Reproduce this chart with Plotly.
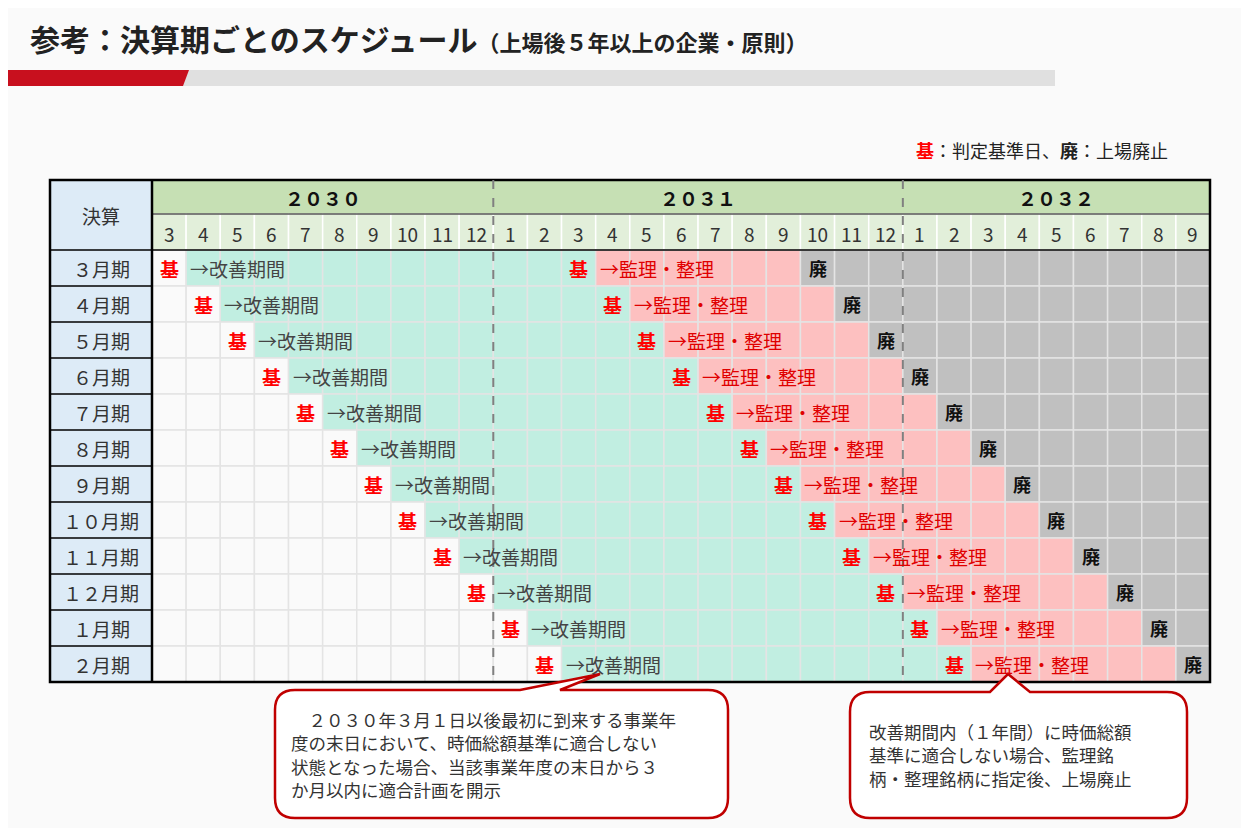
import plotly.graph_objects as go

years = ["２０３０", "２０３１", "２０３２"]
year_months = [[3,4,5,6,7,8,9,10,11,12], [1,2,3,4,5,6,7,8,9,10,11,12], [1,2,3,4,5,6,7,8,9]]
row_labels = ["３月期","４月期","５月期","６月期","７月期","８月期","９月期","１０月期","１１月期","１２月期","１月期","２月期"]
kijun1_col = [0,1,2,3,4,5,6,7,8,9,10,11]
kijun2_col = [12,13,14,15,16,17,18,19,20,21,22,23]
haishi_col = [19,20,21,22,23,24,25,26,27,28,29,30]

W, H = 1249, 828
OFF = 8
X0, X1 = 152, 1210
LX = 50
YT, YM, Y0 = 180, 214, 250
RH = 36
months = [m for ym in year_months for m in ym]
NC = len(months)
CW = (X1 - X0) / NC
Y1 = Y0 + RH * len(row_labels)

FONT = "Noto Sans CJK JP"
GREEN, PINK, GRAY, WHITE = "#c1eee1", "#fdc0c0", "#c0c0c0", "#fafafa"
shapes, ann = [], []

def rect(x0, y0, x1, y1, fill, lc="#e2e2e2", lw=1):
    shapes.append(dict(type="rect", xref="x", yref="y", x0=x0, y0=y0, x1=x1, y1=y1,
                       fillcolor=fill, line=dict(color=lc, width=lw), layer="below"))

def text(x, y, s, size=19, color="#333", xanchor="center", bold=False):
    if bold:
        s = "<b>" + s + "</b>"
    ann.append(dict(x=x, y=y, xref="x", yref="y", text=s, showarrow=False, xanchor=xanchor,
                    yanchor="middle", font=dict(family=FONT, size=size, color=color)))

# title & bar
text(28, 38, "<b>参考：決算期ごとのスケジュール<span style='font-size:22px'>（上場後５年以上の企業・原則）</span></b>", size=30, color="#222", xanchor="left")
shapes.append(dict(type="rect", xref="x", yref="y", x0=183, y0=70, x1=1055, y1=86, fillcolor="#e0e0e0", line=dict(width=0)))
shapes.append(dict(type="path", xref="x", yref="y", path="M 0 70 L 189 70 L 183 86 L 0 86 Z", fillcolor="#c8101e", line=dict(width=0)))
text(1170, 150, "<span style='color:#ff0000'><b>基</b></span>：判定基準日、<b>廃</b>：上場廃止", size=18, color="#222", xanchor="right")

# header
rect(LX, YT, X0, Y1, "#ddebf7", lc="#000", lw=0)
text((LX + X0) / 2, (YT + Y0) / 2, "決算", size=19)
c = 0
for yi, ym in enumerate(year_months):
    xa, xb = X0 + c * CW, X0 + (c + len(ym)) * CW
    rect(xa, YT, xb, YM, "#c6e0b4", lc="#c6e0b4")
    text((xa + xb) / 2, (YT + YM) / 2, years[yi], size=19, color="#111", bold=True)
    for k, m in enumerate(ym):
        xx = X0 + (c + k) * CW
        rect(xx, YM, xx + CW, Y0, "#e2efda", lc="#ffffff", lw=1.5)
        text(xx + CW / 2, (YM + Y0) / 2 + 1, str(m), size=19)
    c += len(ym)

# body
for r, lab in enumerate(row_labels):
    ya, yb = Y0 + r * RH, Y0 + (r + 1) * RH
    text((LX + X0) / 2, (ya + yb) / 2, lab, size=19)
    k1, k2, hc = kijun1_col[r], kijun2_col[r], haishi_col[r]
    for col in range(NC):
        if col <= k1:
            f = WHITE
        elif col <= k2:
            f = GREEN
        elif col < hc:
            f = PINK
        else:
            f = GRAY
        xx = X0 + col * CW
        rect(xx, ya, xx + CW, yb, f, lc="#e4e4e4", lw=1.5)
    ym_ = (ya + yb) / 2
    text(X0 + (k1 + 0.5) * CW, ym_, "基", size=19, color="#ff0000", bold=True)
    text(X0 + (k1 + 1) * CW + 2, ym_, "→改善期間", size=19, color="#444", xanchor="left")
    text(X0 + (k2 + 0.5) * CW, ym_, "基", size=19, color="#ff0000", bold=True)
    text(X0 + (k2 + 1) * CW + 2, ym_, "→監理・整理", size=19, color="#e00000", xanchor="left")
    text(X0 + (hc + 0.5) * CW, ym_, "廃", size=18, color="#111", bold=True)
    shapes.append(dict(type="line", xref="x", yref="y", x0=LX, x1=X0, y0=yb, y1=yb, line=dict(color="#000", width=1.5)))

# border lines
for (xa, ya, xb, yb, w) in [(X0, YM, X1, YM, 1), (LX, Y0, X1, Y0, 1.5), (X0, YT, X0, Y1, 2.5)]:
    shapes.append(dict(type="line", xref="x", yref="y", x0=xa, y0=ya, x1=xb, y1=yb, line=dict(color="#000", width=w)))
shapes.append(dict(type="rect", xref="x", yref="y", x0=LX, y0=YT, x1=X1, y1=Y1, line=dict(color="#000", width=2.5)))
c = 0
for ym in year_months[:-1]:
    c += len(ym)
    xx = X0 + c * CW
    shapes.append(dict(type="line", xref="x", yref="y", x0=xx, x1=xx, y0=YT, y1=Y1, line=dict(color="#808080", width=2, dash="dash")))

# callouts
def callout(x0, y0, x1, y1, pa, pb, tx, ty, r=20):
    p = (f"M {x0+r} {y0} L {pa} {y0} L {tx} {ty} L {pb} {y0} L {x1-r} {y0} Q {x1} {y0} {x1} {y0+r} "
         f"L {x1} {y1-r} Q {x1} {y1} {x1-r} {y1} L {x0+r} {y1} Q {x0} {y1} {x0} {y1-r} "
         f"L {x0} {y0+r} Q {x0} {y0} {x0+r} {y0} Z")
    shapes.append(dict(type="path", xref="x", yref="y", path=p, fillcolor="#ffffff", line=dict(color="#c00000", width=2.5), layer="above"))

callout(275, 690, 728, 818, 520, 560, 600, 674)
callout(850, 692, 1187, 818, 990, 1030, 1008, 674)
box1 = ["　２０３０年３月１日以後最初に到来する事業年", "度の末日において、時価総額基準に適合しない",
        "状態となった場合、当該事業年度の末日から３", "か月以内に適合計画を開示"]
for i, s in enumerate(box1):
    text(289, 719 + i * 23.5, s, size=17.5, color="#333", xanchor="left")
box2 = ["改善期間内（１年間）に時価総額", "基準に適合しない場合、監理銘", "柄・整理銘柄に指定後、上場廃止"]
for i, s in enumerate(box2):
    text(867, 731 + i * 23.5, s, size=17.5, color="#333", xanchor="left")

fig = go.Figure()
fig.update_layout(width=W, height=H, margin=dict(l=0, r=0, t=0, b=0),
                  paper_bgcolor="#fafafa", plot_bgcolor="#fafafa",
                  xaxis=dict(range=[OFF, W + OFF], visible=False, fixedrange=True),
                  yaxis=dict(range=[H + OFF, OFF], visible=False, fixedrange=True),
                  shapes=shapes, annotations=ann, showlegend=False)
fig.write_html("out.html", config={"displayModeBar": False})
